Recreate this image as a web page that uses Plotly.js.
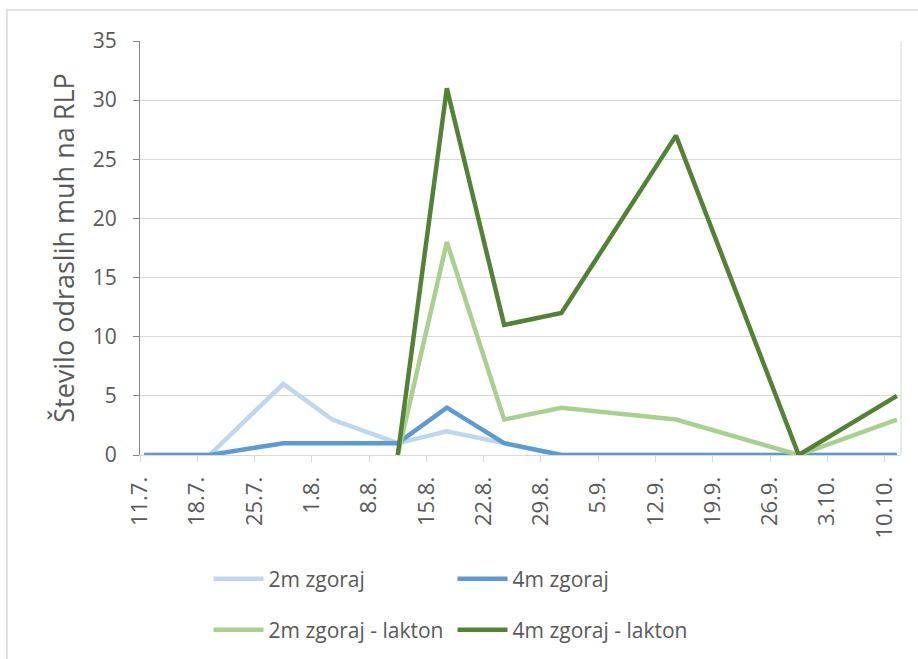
<!DOCTYPE html>
<html>
<head>
<meta charset="utf-8">
<script src="https://cdn.plot.ly/plotly-3.0.1.min.js"></script>
<style>html,body{margin:0;padding:0;background:#fff;}#chart{width:918px;height:659px;}</style>
</head>
<body>
<div id="chart"></div>
<script>
// Sampling dates (dd.m.) – plotted in the middle of the day slot, as Excel does
var dates = ['2021-07-11','2021-07-19','2021-07-28','2021-08-03','2021-08-11','2021-08-17','2021-08-24','2021-08-31','2021-09-14','2021-09-29','2021-10-11'];
// Series values
var s2m = [0, 0, 6, 3, 1, 2, 1, 0, 0, 0, 0];
var s4m = [0, 0, 1, 1, 1, 4, 1, 0, 0, 0, 0];
var s2mLakton = [null, null, null, null, 0, 18, 3, 4, 3, 0, 3];
var s4mLakton = [null, null, null, null, 0, 31, 11, 12, 27, 0, 5];
var seriesNames = ['2m zgoraj', '4m zgoraj', '2m zgoraj - lakton', '4m zgoraj - lakton'];
// Axis tick labels
var tickDates = ['2021-07-11','2021-07-18','2021-07-25','2021-08-01','2021-08-08','2021-08-15','2021-08-22','2021-08-29','2021-09-05','2021-09-12','2021-09-19','2021-09-26','2021-10-03','2021-10-10'];
var tickLabels = ['11.7.','18.7.','25.7.','1.8.','8.8.','15.8.','22.8.','29.8.','5.9.','12.9.','19.9.','26.9.','3.10.','10.10.'];
var yTitle = 'Število odraslih muh na RLP';

var colors = ['#bdd7ee', '#5b9bd5', '#a9d18e', '#548235'];
var vals = [s2m, s4m, s2mLakton, s4mLakton];
var legends = ['legend', 'legend', 'legend2', 'legend2'];
var xMid = dates.map(function (d) { return d + ' 12:00'; });
var traces = vals.map(function (v, i) {
  return {
    type: 'scatter', mode: 'lines', x: xMid, y: v, name: seriesNames[i],
    line: { color: colors[i], width: 4.5 }, connectgaps: false,
    legend: legends[i], hoverinfo: 'skip'
  };
});

var FONT = '"Open Sans", "Noto Sans", sans-serif';
var legendCommon = {
  orientation: 'h', xanchor: 'left', yanchor: 'middle', xref: 'container', yref: 'container',
  font: { family: FONT, size: 21, color: '#595959' }, entrywidth: 179, entrywidthmode: 'pixels',
  itemwidth: 50,
  bgcolor: 'rgba(0,0,0,0)', traceorder: 'normal', itemclick: false, itemdoubleclick: false
};
var layout = {
  width: 918, height: 659,
  margin: { l: 140, r: 17, t: 41, b: 204, autoexpand: false },
  paper_bgcolor: '#ffffff', plot_bgcolor: '#ffffff',
  font: { family: FONT, color: '#595959' },
  showlegend: true,
  xaxis: {
    type: 'date', range: ['2021-07-11', '2021-10-12'],
    tickmode: 'array', tickvals: tickDates, ticktext: tickLabels,
    tickangle: -90, ticks: 'outside', ticklen: 6, tickcolor: '#d9d9d9',
    showline: true, linecolor: '#d9d9d9', linewidth: 1, showgrid: false, zeroline: false,
    tickfont: { family: FONT, size: 22, color: '#595959' }, ticklabelstandoff: 6, fixedrange: true
  },
  yaxis: {
    range: [0, 35], dtick: 5, tick0: 0, ticks: 'outside', ticklen: 6, tickcolor: '#868686',
    showline: true, linecolor: '#868686', linewidth: 1, gridcolor: '#d9d9d9', gridwidth: 1, zeroline: false,
    tickfont: { family: FONT, size: 21, color: '#595959' }, ticklabelstandoff: 12,
    title: { text: yTitle, font: { family: FONT, size: 27, color: '#595959' }, standoff: 10 }, fixedrange: true
  },
  legend: Object.assign({}, legendCommon, { x: 208.5 / 918, y: 1 - 579 / 659 }),
  legend2: Object.assign({}, legendCommon, { x: 208.5 / 918, y: 1 - 630 / 659 }),
  shapes: [{
    type: 'rect', xref: 'paper', yref: 'paper',
    x0: (7 - 140) / 761, x1: (1000 - 140) / 761, y0: (455 - 720) / 414, y1: (455 - 10) / 414,
    line: { color: '#d9d9d9', width: 1.5 }, fillcolor: 'rgba(0,0,0,0)', layer: 'below'
  }, {
    type: 'line', xref: 'paper', yref: 'paper', x0: 1, x1: 1, y0: 0, y1: 1,
    line: { color: '#d9d9d9', width: 1 }, layer: 'below'
  }]
};

Plotly.newPlot('chart', traces, layout, { displayModeBar: false, staticPlot: true });
</script>
</body>
</html>
